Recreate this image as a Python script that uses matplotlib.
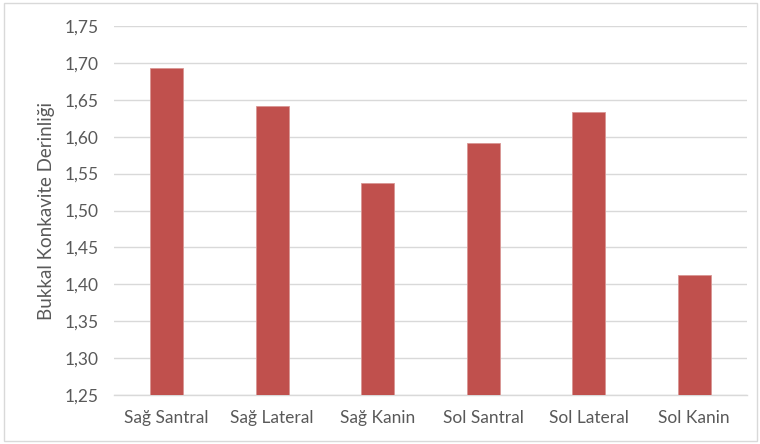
import matplotlib
matplotlib.use("Agg")
import matplotlib.pyplot as plt
from matplotlib.patches import Rectangle
from matplotlib.ticker import FuncFormatter

categories = ["Sağ Santral", "Sağ Lateral", "Sağ Kanin", "Sol Santral", "Sol Lateral", "Sol Kanin"]
values = [1.693, 1.641, 1.537, 1.591, 1.634, 1.413]
y_ticks = [1.25, 1.30, 1.35, 1.40, 1.45, 1.50, 1.55, 1.60, 1.65, 1.70, 1.75]
y_label = "Bukkal Konkavite Derinliği"

plt.rcParams["font.family"] = ["Lato", "DejaVu Sans"]
text_color = "#595959"
grid_color = "#D9D9D9"
bar_color = "#C0504D"

fig = plt.figure(figsize=(7.6, 4.44), dpi=100)
fig.patch.set_facecolor("white")

# chart outer border
fig.add_artist(Rectangle((4 / 760, 3 / 444), 753 / 760, 438 / 444,
                         transform=fig.transFigure, fill=False,
                         edgecolor=grid_color, linewidth=1.0))

ax = fig.add_axes([114 / 760, 1 - 395 / 444, (747 - 114) / 760, (395 - 26) / 444])
x = range(len(categories))
ax.bar(x, [v - y_ticks[0] for v in values], bottom=y_ticks[0], width=0.31,
       color=bar_color, edgecolor="#D99694", linewidth=0.6, zorder=3)

ax.set_xlim(-0.5, len(categories) - 0.5)
ax.set_ylim(y_ticks[0], y_ticks[-1])
ax.set_yticks(y_ticks)
ax.yaxis.set_major_formatter(FuncFormatter(lambda v, p: f"{v:.2f}".replace(".", ",")))
ax.set_xticks(list(x))
ax.set_xticklabels(categories)

ax.grid(axis="y", color=grid_color, linewidth=1.0, zorder=0)
for side in ["top", "right", "left"]:
    ax.spines[side].set_visible(False)
ax.spines["bottom"].set_color(grid_color)
ax.spines["bottom"].set_linewidth(1.0)
ax.tick_params(axis="both", length=0, labelsize=12.5, colors=text_color)
ax.tick_params(axis="y", pad=11)
ax.tick_params(axis="x", pad=11)

ax.set_ylabel(y_label, fontsize=13.5, color=text_color, labelpad=7)

fig.savefig("out.png", dpi=100, facecolor="white")
